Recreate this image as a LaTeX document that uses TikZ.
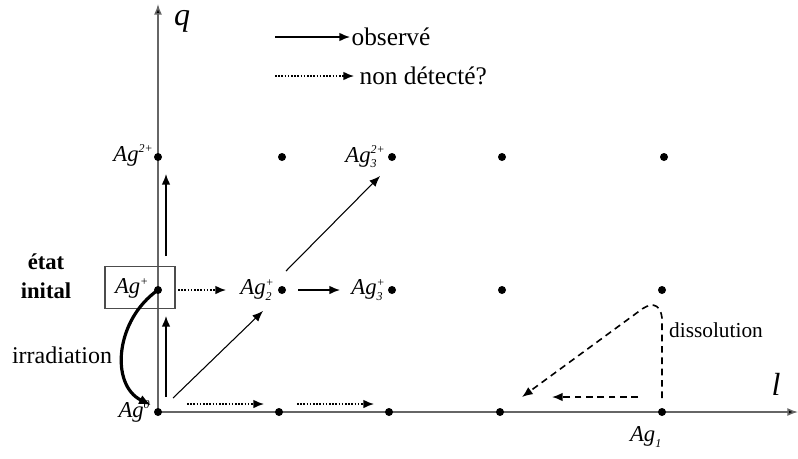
\documentclass[tikz,border=0pt]{standalone}
\usepackage{fontspec}
\setmainfont{Liberation Serif}
\usetikzlibrary{arrows.meta}
\newcommand\agl[2]{\textit{Ag}\ensuremath{_{\textit{\fontsize{9}{9}\selectfont #1}}^{\textit{\fontsize{9}{9}\selectfont #2}}}}
\begin{document}
\begin{tikzpicture}[x=0.75pt,y=-0.75pt,
  dot/.style={circle,fill=black,inner sep=0pt,minimum size=6pt},
  axisline/.style={draw=black!60,line width=1.1pt,-{Latex[length=8pt,width=6pt,fill=black]}},
  obs/.style={line width=1.1pt,-{Latex[length=8pt,width=6.5pt]}},
  thinobs/.style={line width=0.8pt,-{Latex[length=8pt,width=6.5pt]}},
  nd/.style={line width=1.1pt,dash pattern=on 1.2pt off 1.2pt,-{Latex[length=8pt,width=6.5pt]}},
  dsh/.style={line width=1.2pt,dash pattern=on 5pt off 3.5pt},
  dshtip/.style={dsh,-{Latex[length=8pt,width=6.5pt]}},
  lab/.style={inner sep=1pt,font=\fontsize{17}{19}\selectfont},
  txt/.style={inner sep=1pt,font=\fontsize{19}{21}\selectfont},
  btxt/.style={inner sep=1pt,font=\fontsize{17}{19}\selectfont\bfseries},
]
\useasboundingbox (0,0) rectangle (798,458);
% axes
\coordinate (O) at (158,412);
\coordinate (qtop) at (158,4);
\coordinate (lend) at (798,412);
\draw[axisline] (O) -- (qtop);
\draw[axisline] (O) -- (lend);
\node[txt,font=\fontsize{24}{26}\selectfont\itshape] (q) at (182,21) {q};
\node[txt,font=\fontsize{24}{26}\selectfont\itshape] (l) at (776,384) {l};
% grid dots
\foreach \n/\x/\y in {a0/158/412,a1/279/412,a2/389/412,a3/500/412,a4/662/412,
  b0/158/290,b1/282/290,b2/392/290,b3/502/290,b4/662/290,
  c0/158/157,c1/282/157,c2/392/157,c3/502/157,c4/664/157}
  \node[dot] (\n) at (\x,\y) {};
% legend
\coordinate (l1s) at (275,37); \coordinate (l1e) at (350,37);
\coordinate (l2s) at (275,76); \coordinate (l2e) at (354,76);
\draw[obs] (l1s) -- (l1e);
\node[txt,anchor=west] (obsv) at (l1e) {observé};
\draw[nd] (l2s) -- (l2e);
\node[txt,anchor=west] (ndet) at (358,76) {non détecté?};
% labels
\node[lab,anchor=east] (Lc0) at (155,156) {\agl{}{2+}};
\node[lab,anchor=east] (Lc2) at (387,157) {\agl{3}{2+}};
\node[lab] (Lb0) at (132,289) {\agl{}{+}};
\node[lab,anchor=east] (Lb1) at (276,290) {\agl{2}{+}};
\node[lab,anchor=east] (Lb2) at (387,290) {\agl{3}{+}};
\node[lab,anchor=east] (La0) at (152,412) {\agl{}{0}};
\node[lab] (La4) at (646,437) {\agl{1}{}};
\node[btxt] (etat) at (46,262) {état};
\node[btxt] (init) at (46,291) {inital};
\node[txt,font=\fontsize{18}{20}\selectfont] (irr) at (62,355) {irradiation};
\node[txt,font=\fontsize{16}{18}\selectfont] (diss) at (716,330) {dissolution};
% box around initial state
\node[draw=black!70,line width=0.8pt,minimum width=52.5pt,minimum height=32pt,inner sep=0pt] (box) at (140,287.5) {};
% arrows
\coordinate (v1s) at (166,256); \coordinate (v1e) at (166,174);
\coordinate (v2s) at (166,397); \coordinate (v2e) at (166,316);
\draw[obs] (v1s) -- (v1e);
\draw[obs] (v2s) -- (v2e);
\coordinate (d1s) at (173,398); \coordinate (d1e) at (263,311);
\coordinate (d2s) at (286,271); \coordinate (d2e) at (380,176);
\draw[thinobs] (d1s) -- (d1e);
\draw[thinobs] (d2s) -- (d2e);
\coordinate (h1s) at (178,290); \coordinate (h1e) at (226,290);
\draw[nd] (h1s) -- (h1e);
\coordinate (h2s) at (298,290); \coordinate (h2e) at (340,290);
\draw[obs] (h2s) -- (h2e);
\coordinate (b1s) at (187,404); \coordinate (b1e) at (264,404);
\coordinate (b2s) at (297,404); \coordinate (b2e) at (374,404);
\draw[nd] (b1s) -- (b1e);
\draw[nd] (b2s) -- (b2e);
% irradiation
\coordinate (irre) at (151,405);
\draw[line width=2.4pt,-{Latex[length=9pt,width=7.5pt]}] (b0.center) .. controls (115,320) and (110,385) .. (irre);
% dissolution
\coordinate (ds0) at (662,398);
\coordinate (ds1) at (662,318);
\coordinate (ds2) at (638,312);
\coordinate (ds3) at (522,397);
\draw[dshtip] (ds0) -- (ds1) .. controls (660,302) and (650,302) .. (ds2) -- (ds3);
\coordinate (dh0) at (638,397); \coordinate (dh1) at (552,397);
\draw[dshtip] (dh0) -- (dh1);
\end{tikzpicture}
\end{document}
